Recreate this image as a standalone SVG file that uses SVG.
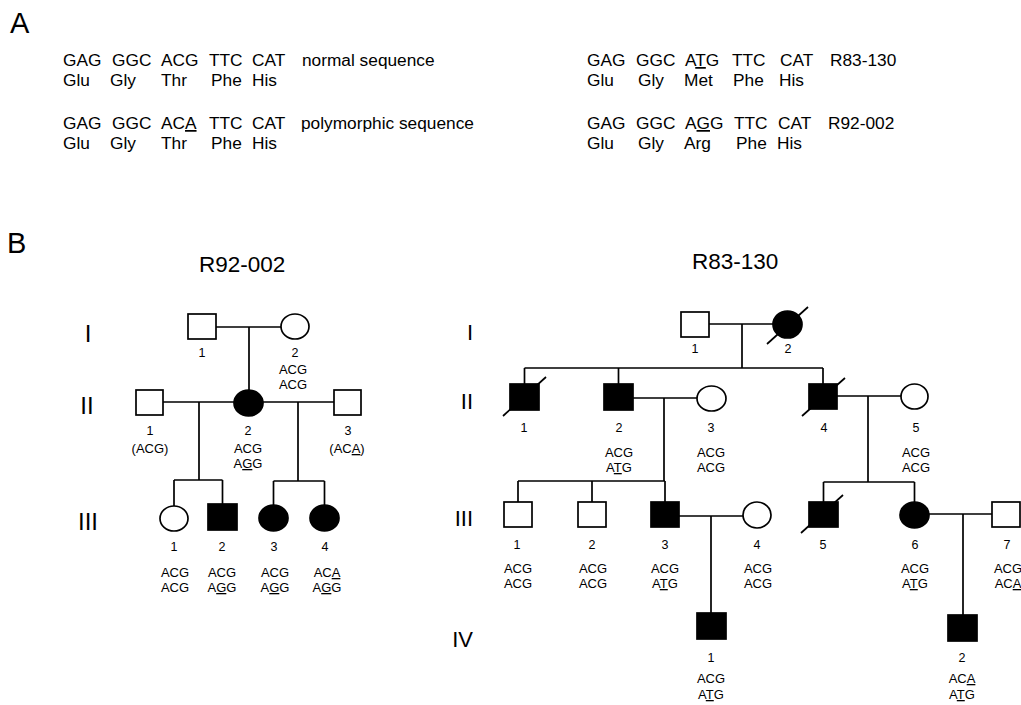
<svg xmlns="http://www.w3.org/2000/svg" width="1021" height="705" viewBox="0 0 1021 705">
<style>
.t{font-family:"Liberation Sans",Arial,sans-serif;fill:#000}
.seq{font-size:17.3px}
.hd{font-size:29px}
.ttl{font-size:22.5px}
.gen{font-size:24px;text-anchor:middle}
.genr{font-size:22px;text-anchor:end}
.n{font-size:12.5px;text-anchor:middle}
.g{font-size:13px;text-anchor:middle}
.u{text-decoration:underline}
.ln{stroke:#000;stroke-width:1.7;fill:none}
.o{fill:#fff;stroke:#000;stroke-width:1.7}
.f{fill:#000;stroke:#000;stroke-width:1.7}
</style>
<rect width="1021" height="705" fill="#fff"/>

<!-- Panel A -->
<g id="panelA" class="t seq">
<text class="t hd" x="10" y="33">A</text>
<text y="66"><tspan x="63">GAG</tspan><tspan x="112">GGC</tspan><tspan x="161">ACG</tspan><tspan x="209">TTC</tspan><tspan x="252">CAT</tspan><tspan x="302">normal sequence</tspan></text>
<text y="86"><tspan x="63">Glu</tspan><tspan x="110">Gly</tspan><tspan x="161">Thr</tspan><tspan x="211">Phe</tspan><tspan x="252">His</tspan></text>
<text y="129"><tspan x="63">GAG</tspan><tspan x="112">GGC</tspan><tspan x="161">AC<tspan class="u">A</tspan></tspan><tspan x="209">TTC</tspan><tspan x="252">CAT</tspan><tspan x="301">polymorphic sequence</tspan></text>
<text y="149"><tspan x="63">Glu</tspan><tspan x="110">Gly</tspan><tspan x="161">Thr</tspan><tspan x="211">Phe</tspan><tspan x="252">His</tspan></text>
<text y="66"><tspan x="587">GAG</tspan><tspan x="636">GGC</tspan><tspan x="685">A<tspan class="u">T</tspan>G</tspan><tspan x="732">TTC</tspan><tspan x="780">CAT</tspan><tspan x="830">R83-130</tspan></text>
<text y="86"><tspan x="587">Glu</tspan><tspan x="638">Gly</tspan><tspan x="684">Met</tspan><tspan x="733">Phe</tspan><tspan x="779">His</tspan></text>
<text y="129"><tspan x="587">GAG</tspan><tspan x="636">GGC</tspan><tspan x="685">A<tspan class="u">G</tspan>G</tspan><tspan x="734">TTC</tspan><tspan x="778">CAT</tspan><tspan x="828">R92-002</tspan></text>
<text y="149"><tspan x="587">Glu</tspan><tspan x="638">Gly</tspan><tspan x="684">Arg</tspan><tspan x="736">Phe</tspan><tspan x="777">His</tspan></text>
</g>

<!-- Panel B headings -->
<text class="t hd" x="7" y="253">B</text>
<text class="t ttl" x="199" y="272">R92-002</text>
<text class="t ttl" x="692" y="269">R83-130</text>

<g id="generations" class="t">
<text class="gen" x="88" y="342">I</text>
<text class="gen" x="87" y="414">II</text>
<text class="gen" x="88" y="530">III</text>
<text class="genr" x="473" y="340">I</text>
<text class="genr" x="473" y="409">II</text>
<text class="genr" x="473" y="526">III</text>
<text class="genr" x="473" y="647">IV</text>
</g>

<!-- Connectors -->
<g id="connectors" class="ln">
<!-- left pedigree -->
<path d="M216 327H281M249 327V390"/>
<path d="M163 402H234M263 402H334"/>
<path d="M199 402V480M174 480H222.5M174 480V506M222.5 480V504"/>
<path d="M298 402V481M273.5 481H324.5M273.5 481V505M324.5 481V505"/>
<!-- right pedigree -->
<path d="M709 324H773M742 324V368M524.5 368H823M524.5 368V384M618.5 368V384M823 368V384"/>
<path d="M633 398H697M664 398V481"/>
<path d="M837 396H901M868 396V482"/>
<path d="M518 481H665M518 481V502M592 481V502M665 481V502"/>
<path d="M679 516H743M711 516V613"/>
<path d="M823.5 482H914.5M823.5 482V502M914.5 482V502"/>
<path d="M929 514H992M963 514V615"/>
</g>

<!-- Left pedigree nodes -->
<g id="L-I-1"><rect class="o" x="188" y="314" width="28" height="25"/><text class="t n" x="202" y="357">1</text></g>
<g id="L-I-2"><ellipse class="o" cx="295" cy="326.5" rx="14" ry="12.5"/><text class="t n" x="295" y="357">2</text><text class="t g" x="293" y="374">ACG</text><text class="t g" x="293" y="389">ACG</text></g>
<g id="L-II-1"><rect class="o" x="136" y="390" width="27" height="25"/><text class="t n" x="150" y="435">1</text><text class="t g" x="150" y="453">(ACG)</text></g>
<g id="L-II-2"><ellipse class="f" cx="248.5" cy="403" rx="14.5" ry="13"/><text class="t n" x="248" y="435">2</text><text class="t g" x="248" y="453">ACG</text><text class="t g" x="248" y="468">A<tspan class="u">G</tspan>G</text></g>
<g id="L-II-3"><rect class="o" x="334" y="390" width="27" height="25"/><text class="t n" x="348" y="435">3</text><text class="t g" x="347" y="453">(AC<tspan class="u">A</tspan>)</text></g>
<g id="L-III-1"><ellipse class="o" cx="174" cy="518.5" rx="14" ry="12.5"/><text class="t n" x="174" y="551">1</text><text class="t g" x="175" y="577">ACG</text><text class="t g" x="175" y="592">ACG</text></g>
<g id="L-III-2"><rect class="f" x="208" y="504" width="29" height="26"/><text class="t n" x="222" y="551">2</text><text class="t g" x="222" y="577">ACG</text><text class="t g" x="222" y="592">A<tspan class="u">G</tspan>G</text></g>
<g id="L-III-3"><ellipse class="f" cx="273.5" cy="518" rx="14.5" ry="13"/><text class="t n" x="274" y="551">3</text><text class="t g" x="275" y="577">ACG</text><text class="t g" x="275" y="592">A<tspan class="u">G</tspan>G</text></g>
<g id="L-III-4"><ellipse class="f" cx="324.5" cy="518" rx="14.5" ry="13"/><text class="t n" x="325" y="551">4</text><text class="t g" x="327" y="577">AC<tspan class="u">A</tspan></text><text class="t g" x="327" y="592">A<tspan class="u">G</tspan>G</text></g>

<!-- Right pedigree nodes -->
<g id="R-I-1"><rect class="o" x="681" y="312" width="28" height="25"/><text class="t n" x="695" y="353">1</text></g>
<g id="R-I-2"><ellipse class="f" cx="787.5" cy="324.5" rx="14.5" ry="13.5"/><line class="ln" x1="767" y1="344" x2="808" y2="307"/><text class="t n" x="788" y="353">2</text></g>
<g id="R-II-1"><rect class="f" x="510" y="384" width="29" height="26"/><line class="ln" x1="503" y1="416" x2="546" y2="377"/><text class="t n" x="524" y="432">1</text></g>
<g id="R-II-2"><rect class="f" x="604" y="384" width="29" height="26"/><text class="t n" x="619" y="432">2</text><text class="t g" x="619" y="457">ACG</text><text class="t g" x="619" y="472">A<tspan class="u">T</tspan>G</text></g>
<g id="R-II-3"><ellipse class="o" cx="711.5" cy="398.5" rx="14.5" ry="12.5"/><text class="t n" x="711" y="432">3</text><text class="t g" x="711" y="457">ACG</text><text class="t g" x="711" y="472">ACG</text></g>
<g id="R-II-4"><rect class="f" x="809" y="384" width="28" height="25"/><line class="ln" x1="802" y1="416" x2="845" y2="378"/><text class="t n" x="824" y="432">4</text></g>
<g id="R-II-5"><ellipse class="o" cx="914.5" cy="396.5" rx="13.5" ry="12.5"/><text class="t n" x="916" y="432">5</text><text class="t g" x="916" y="457">ACG</text><text class="t g" x="916" y="472">ACG</text></g>
<g id="R-III-1"><rect class="o" x="504" y="502" width="28" height="25"/><text class="t n" x="517" y="549">1</text><text class="t g" x="518" y="573">ACG</text><text class="t g" x="518" y="588">ACG</text></g>
<g id="R-III-2"><rect class="o" x="578" y="502" width="28" height="25"/><text class="t n" x="592" y="549">2</text><text class="t g" x="593" y="573">ACG</text><text class="t g" x="593" y="588">ACG</text></g>
<g id="R-III-3"><rect class="f" x="651" y="502" width="28" height="25"/><text class="t n" x="665" y="549">3</text><text class="t g" x="665" y="573">ACG</text><text class="t g" x="665" y="588">A<tspan class="u">T</tspan>G</text></g>
<g id="R-III-4"><ellipse class="o" cx="757" cy="515" rx="14" ry="13"/><text class="t n" x="757" y="549">4</text><text class="t g" x="758" y="573">ACG</text><text class="t g" x="758" y="588">ACG</text></g>
<g id="R-III-5"><rect class="f" x="809" y="502" width="29" height="25"/><line class="ln" x1="801" y1="533" x2="843" y2="495"/><text class="t n" x="823" y="549">5</text></g>
<g id="R-III-6"><ellipse class="f" cx="914.5" cy="515" rx="14.5" ry="13"/><text class="t n" x="915" y="549">6</text><text class="t g" x="915" y="573">ACG</text><text class="t g" x="915" y="588">A<tspan class="u">T</tspan>G</text></g>
<g id="R-III-7"><rect class="o" x="992" y="502" width="28" height="25"/><text class="t n" x="1007" y="549">7</text><text class="t g" x="1008" y="573">ACG</text><text class="t g" x="1008" y="588">AC<tspan class="u">A</tspan></text></g>
<g id="R-IV-1"><rect class="f" x="697" y="613" width="29" height="26"/><text class="t n" x="711" y="662">1</text><text class="t g" x="711" y="683">ACG</text><text class="t g" x="711" y="699">A<tspan class="u">T</tspan>G</text></g>
<g id="R-IV-2"><rect class="f" x="948" y="615" width="29" height="26"/><text class="t n" x="962" y="662">2</text><text class="t g" x="962" y="683">AC<tspan class="u">A</tspan></text><text class="t g" x="962" y="699">A<tspan class="u">T</tspan>G</text></g>
</svg>
